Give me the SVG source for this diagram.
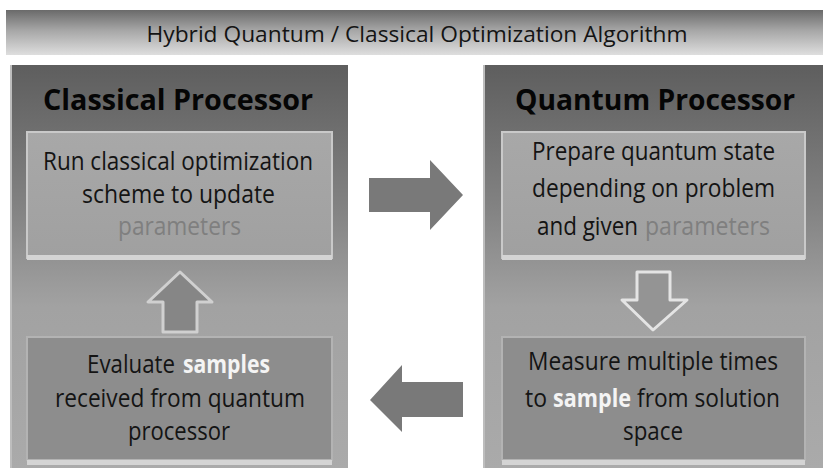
<svg xmlns="http://www.w3.org/2000/svg" width="823" height="468" viewBox="0 0 823 468">
<defs>
<linearGradient id="gTitle" x1="0" y1="0" x2="0" y2="1">
<stop offset="0" stop-color="#6a6a6a"/><stop offset="0.45" stop-color="#a6a6a6"/><stop offset="1" stop-color="#dedede"/>
</linearGradient>
<linearGradient id="gPanel" x1="0" y1="0" x2="0" y2="1">
<stop offset="0" stop-color="#5e5e5e"/><stop offset="0.35" stop-color="#828282"/><stop offset="0.6" stop-color="#a2a2a2"/><stop offset="1" stop-color="#aaaaaa"/>
</linearGradient>
<linearGradient id="gTopBox" x1="0" y1="0" x2="0" y2="1">
<stop offset="0" stop-color="#a8a8a8"/><stop offset="1" stop-color="#a0a0a0"/>
</linearGradient>
</defs>
<style>
.t{font-family:"Open Sans","Noto Sans","Liberation Sans",sans-serif;fill:#141414}
.h{font-family:"Open Sans","Noto Sans","Liberation Sans",sans-serif;font-weight:bold;fill:#050505;font-size:28px}
.b{font-size:25px}
.par{fill:#7f7f7f}
.smp{fill:#f4f4f4;font-weight:bold}
.panel{fill:url(#gPanel)}
.topbox{fill:url(#gTopBox);stroke:#c9c9c9;stroke-width:2}
.botbox{fill:#8d8d8d;stroke:#b3b3b3;stroke-width:2}
.lip{fill:#d4d4d4}
.arr{fill:#797979}
.uarr{fill:#868686;stroke:#d0d0d0;stroke-width:3;stroke-linejoin:round}
.darr{fill:#949494;stroke:#e4e4e4;stroke-width:3;stroke-linejoin:round}
</style>
<rect width="823" height="468" fill="#ffffff"/>
<g id="title">
<rect x="6" y="10" width="817" height="45" fill="url(#gTitle)"/>
<text class="t" x="417" y="42" font-size="21" text-anchor="middle" textLength="541" lengthAdjust="spacingAndGlyphs">Hybrid Quantum / Classical Optimization Algorithm</text>
</g>
<g id="classical-processor">
<rect class="panel" x="10" y="65" width="338" height="403"/>
<rect x="10" y="65" width="2" height="403" fill="#bdbdbd"/>
<text class="h" x="43" y="110" textLength="270" lengthAdjust="spacingAndGlyphs">Classical Processor</text>
</g>
<g id="quantum-processor">
<rect class="panel" x="483" y="65" width="340" height="403"/>
<rect x="483" y="65" width="2" height="403" fill="#bdbdbd"/>
<text class="h" x="515" y="110" textLength="280" lengthAdjust="spacingAndGlyphs">Quantum Processor</text>
</g>
<g id="run-classical">
<rect class="topbox" x="27" y="132" width="305" height="126"/>
<rect class="lip" x="27" y="255" width="305" height="5"/>
<text class="t b" x="43" y="170" textLength="270" lengthAdjust="spacingAndGlyphs">Run classical optimization</text>
<text class="t b" x="82" y="203" textLength="193" lengthAdjust="spacingAndGlyphs">scheme to update</text>
<text class="t b par" x="118" y="235" textLength="123" lengthAdjust="spacingAndGlyphs">parameters</text>
</g>
<g id="prepare-state">
<rect class="topbox" x="502" y="132" width="303" height="126"/>
<rect class="lip" x="502" y="255" width="303" height="5"/>
<text class="t b" x="532" y="160" textLength="243" lengthAdjust="spacingAndGlyphs">Prepare quantum state</text>
<text class="t b" x="532" y="197" textLength="243" lengthAdjust="spacingAndGlyphs">depending on problem</text>
<text class="t b" x="537" y="235" textLength="101" lengthAdjust="spacingAndGlyphs">and given</text>
<text class="t b par" x="645" y="235" textLength="125" lengthAdjust="spacingAndGlyphs">parameters</text>
</g>
<g id="evaluate-samples">
<rect class="botbox" x="27" y="337" width="305" height="123"/>
<rect class="lip" x="27" y="460" width="305" height="5"/>
<text class="t b" x="87" y="373" textLength="88" lengthAdjust="spacingAndGlyphs">Evaluate</text>
<text class="t b smp" x="183" y="373" textLength="87" lengthAdjust="spacingAndGlyphs">samples</text>
<text class="t b" x="55" y="407" textLength="250" lengthAdjust="spacingAndGlyphs">received from quantum</text>
<text class="t b" x="128" y="440" textLength="102" lengthAdjust="spacingAndGlyphs">processor</text>
</g>
<g id="measure">
<rect class="botbox" x="502" y="337" width="303" height="123"/>
<rect class="lip" x="502" y="460" width="303" height="5"/>
<text class="t b" x="528" y="370" textLength="250" lengthAdjust="spacingAndGlyphs">Measure multiple times</text>
<text class="t b" x="525" y="407" textLength="22" lengthAdjust="spacingAndGlyphs">to</text>
<text class="t b smp" x="553" y="407" textLength="78" lengthAdjust="spacingAndGlyphs">sample</text>
<text class="t b" x="637" y="407" textLength="143" lengthAdjust="spacingAndGlyphs">from solution</text>
<text class="t b" x="623" y="440" textLength="60" lengthAdjust="spacingAndGlyphs">space</text>
</g>
<g id="connectors">
<polygon class="arr" points="369,178 430,178 430,160 463,195 430,230 430,212 369,212"/>
<polygon class="arr" points="463,382 402,382 402,365 370,400 402,432 402,417 463,417"/>
<polygon class="uarr" points="163,332 197,332 197,302 212,302 180,272 148,302 163,302"/>
<polygon class="darr" points="637,272 670,272 670,300 687,300 653,330 622,300 637,300"/>
</g>
</svg>
